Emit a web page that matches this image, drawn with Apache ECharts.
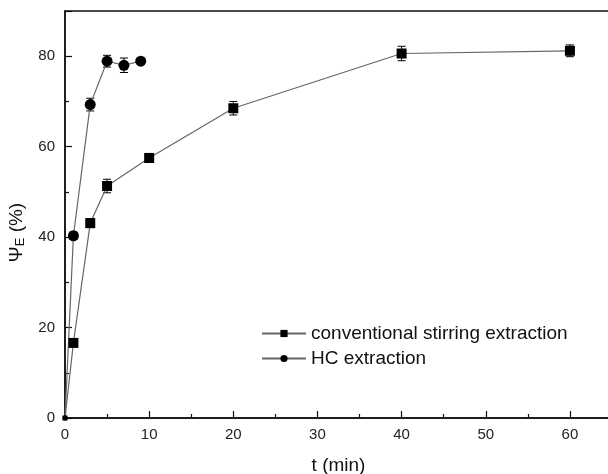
<!DOCTYPE html>
<html>
<head>
<meta charset="utf-8">
<script src="https://cdn.jsdelivr.net/npm/echarts@6/dist/echarts.min.js"></script>
<style>html,body{margin:0;padding:0;background:#fff;}#c{width:608px;height:474px;}</style>
</head>
<body>
<div id="c"></div>
<script>
// time (min)
const tConv = [0, 1, 3, 5, 10, 20, 40, 60];
const psiConv = [0, 16.6, 43.1, 51.3, 57.5, 68.5, 80.6, 81.2];
const errConv = [0, 0.6, 1.0, 1.5, 1.0, 1.5, 1.6, 1.3];
const tHC = [0, 1, 3, 5, 7, 9];
const psiHC = [0, 40.3, 69.3, 78.9, 78.0, 78.9];
const errHC = [0, 0.8, 1.4, 1.3, 1.6, 0.6];
const nameConv = 'conventional stirring extraction';
const nameHC = 'HC extraction';
const xTicks = [0, 10, 20, 30, 40, 50, 60];
const yTicks = [0, 20, 40, 60, 80];

const chart = echarts.init(document.getElementById('c'), null, {renderer: 'canvas'});
const font = 'Liberation Sans, Arial, sans-serif';

function pts(ts, ys) { return ts.map((t, i) => [t, ys[i]]); }
function errPts(ts, ys, es) { return ts.map((t, i) => [t, ys[i], es[i]]); }

function renderErr(params, api) {
  const x = api.value(0), y = api.value(1), e = api.value(2);
  if (!e) return null;
  const lo = api.coord([x, y - e]);
  const hi = api.coord([x, y + e]);
  const w = 4;
  const st = {stroke: '#000', lineWidth: 1};
  return {
    type: 'group',
    children: [
      {type: 'line', shape: {x1: lo[0], y1: lo[1], x2: hi[0], y2: hi[1]}, style: st},
      {type: 'line', shape: {x1: lo[0] - w, y1: lo[1], x2: lo[0] + w, y2: lo[1]}, style: st},
      {type: 'line', shape: {x1: hi[0] - w, y1: hi[1], x2: hi[0] + w, y2: hi[1]}, style: st}
    ]
  };
}

const option = {
  backgroundColor: '#fff',
  animation: false,
  grid: {left: 65, top: 11, height: 407, width: 547, show: true, borderColor: '#111', borderWidth: 1.5,
    containLabel: false, outerBoundsMode: 'none'},
  legend: {
    data: [nameConv, nameHC],
    orient: 'vertical',
    left: 256,
    top: 319,
    itemWidth: 44,
    itemHeight: 9,
    itemGap: 6,
    textStyle: {fontFamily: font, fontSize: 19, color: '#111'},
    inactiveColor: '#111'
  },
  xAxis: {
    type: 'value', min: 0, max: 65, interval: 10,
    name: 't (min)', nameLocation: 'middle', nameGap: 38,
    nameTextStyle: {fontFamily: font, fontSize: 19, color: '#111'},
    axisLine: {show: true, onZero: false, lineStyle: {color: '#111', width: 1.5}},
    axisTick: {show: true, inside: true, length: 7, lineStyle: {color: '#111', width: 1.2}},
    minorTick: {show: true, splitNumber: 2, length: 4, lineStyle: {color: '#111', width: 1.2}},
    splitLine: {show: false},
    axisLabel: {fontFamily: font, fontSize: 15, color: '#222', margin: 9,
      formatter: v => xTicks.includes(v) ? String(v) : ''}
  },
  yAxis: {
    type: 'value', min: 0, max: 90, interval: 20,
    name: '{a|Ψ}{s|E}{a| (%)}', nameLocation: 'middle', nameGap: 32, nameRotate: 90,
    nameTextStyle: {fontFamily: font, fontSize: 19, color: '#111', padding: [0, 36, 0, 0],
      rich: {a: {fontFamily: font, fontSize: 19, color: '#111', verticalAlign: 'middle'},
             s: {fontFamily: font, fontSize: 13, color: '#111', verticalAlign: 'bottom', padding: [9, 0, 0, 0]}}},
    axisLine: {show: true, onZero: false, lineStyle: {color: '#111', width: 1.5}},
    axisTick: {show: true, inside: true, length: 7, lineStyle: {color: '#111', width: 1.2}},
    minorTick: {show: true, splitNumber: 2, length: 4, lineStyle: {color: '#111', width: 1.2}},
    splitLine: {show: false},
    axisLabel: {fontFamily: font, fontSize: 15, color: '#222', margin: 10,
      formatter: v => yTicks.includes(v) ? String(v) : ''}
  },
  series: [
    {
      name: 'errConv', type: 'custom', renderItem: renderErr, z: 3,
      data: errPts(tConv, psiConv, errConv), encode: {x: 0, y: 1}, silent: true
    },
    {
      name: 'errHC', type: 'custom', renderItem: renderErr, z: 3,
      data: errPts(tHC, psiHC, errHC), encode: {x: 0, y: 1}, silent: true
    },
    {
      name: nameConv, type: 'line', data: pts(tConv, psiConv), z: 4,
      symbol: 'rect', symbolSize: (v, p) => p.dataIndex === 0 ? 5 : 10,
      lineStyle: {color: '#666', width: 1.2},
      itemStyle: {color: '#000'},
      clip: false
    },
    {
      name: nameHC, type: 'line', data: pts(tHC, psiHC), z: 4,
      symbol: 'circle', symbolSize: (v, p) => p.dataIndex === 0 ? 5 : 11,
      lineStyle: {color: '#666', width: 1.2},
      itemStyle: {color: '#000'},
      clip: false
    }
  ]
};
chart.setOption(option);
</script>
</body>
</html>
